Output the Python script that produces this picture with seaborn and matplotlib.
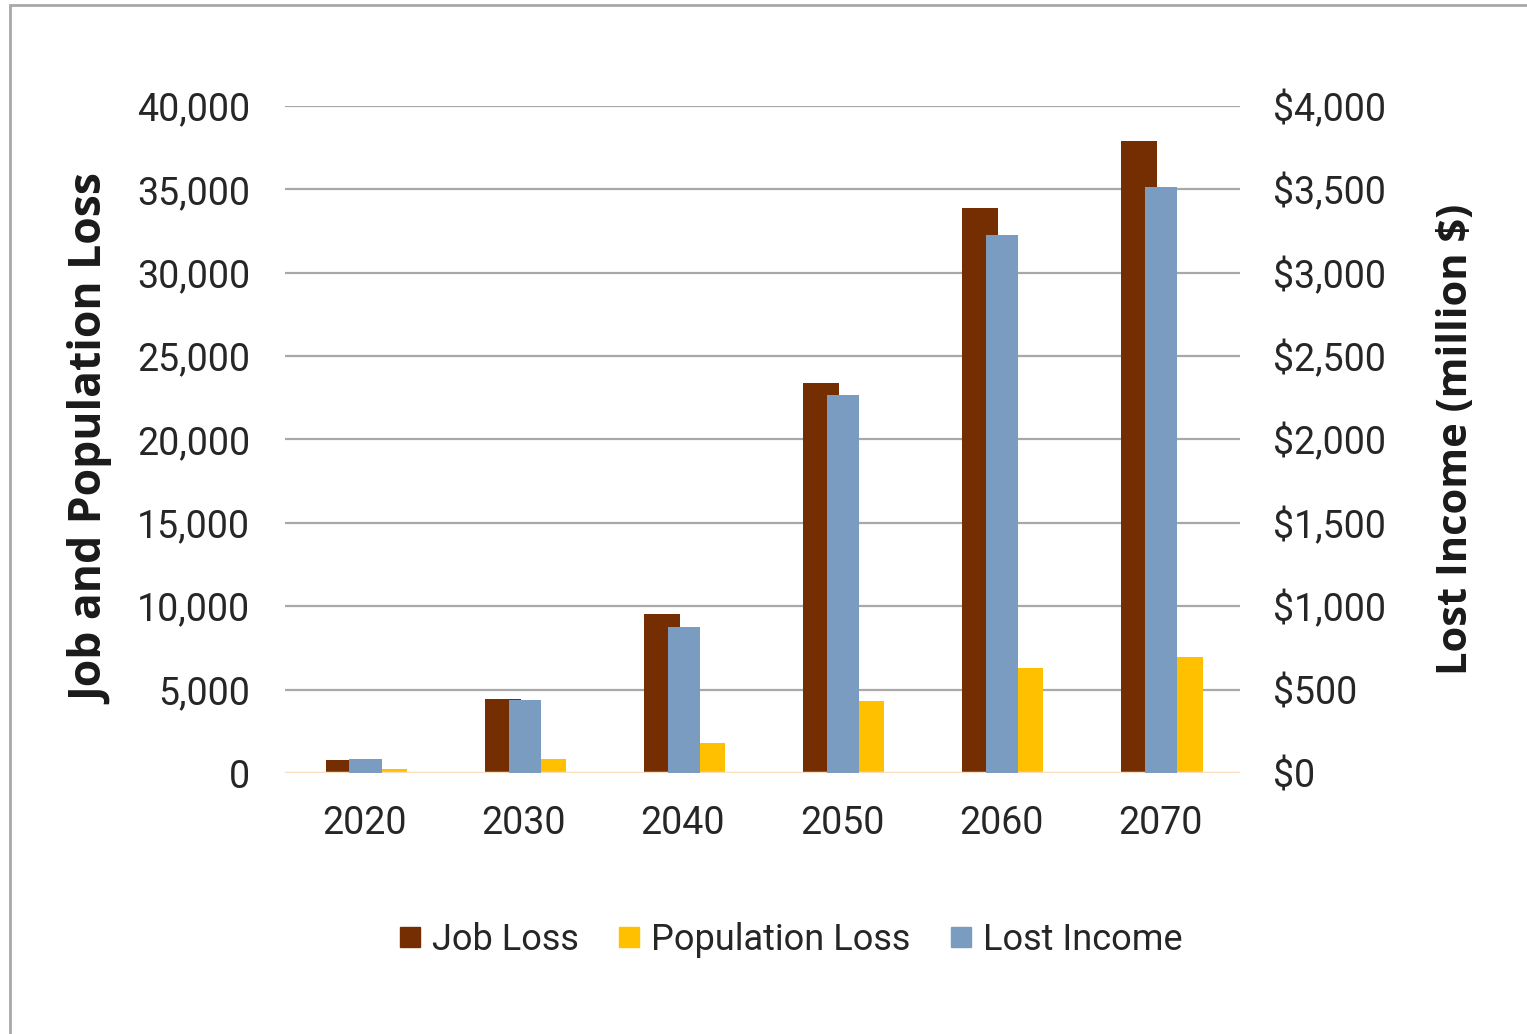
import numpy as np
import matplotlib
matplotlib.use("Agg")
import matplotlib.pyplot as plt
from matplotlib.patches import Rectangle
from matplotlib.lines import Line2D
import seaborn as sns

sns.set_style("white")
plt.rcParams['font.family'] = ['Roboto', 'DejaVu Sans']

# data
years = ["2020", "2030", "2040", "2050", "2060", "2070"]
job_loss = [780, 4450, 9550, 23400, 33900, 37900]
population_loss = [230, 840, 1800, 4330, 6300, 6960]
lost_income = [84, 438, 876, 2267, 3226, 3514]   # million $

c_job = "#742E02"
c_pop = "#FFC000"
c_inc = "#7A9CC0"
tick_col = "#262626"

fig = plt.figure(figsize=(15.27, 10.34), dpi=100)
ax = fig.add_axes([285/1527, 1 - 773/1034, 955/1527, 667/1034])
ax2 = ax.twinx()

idx = np.arange(len(years))

# Excel-like layout: job bar left, income overlapping slightly, population on right
sns.barplot(x=idx - 0.132, y=job_loss, native_scale=True, width=0.227,
            color=c_job, saturation=1, linewidth=0, ax=ax, zorder=3)
sns.barplot(x=idx + 0.186, y=population_loss, native_scale=True, width=0.158,
            color=c_pop, saturation=1, linewidth=0, ax=ax, zorder=3)
sns.barplot(x=idx + 0.006, y=lost_income, native_scale=True, width=0.202,
            color=c_inc, saturation=1, linewidth=0, ax=ax2, zorder=3)

ax.set_ylim(0, 40000)
ax2.set_ylim(0, 4000)
ax.set_xlim(-0.5, len(years) - 0.5)
ax2.set_xlim(-0.5, len(years) - 0.5)

ax.set_yticks(np.arange(0, 40001, 5000))
ax.set_yticklabels([f"{v:,}" for v in range(0, 40001, 5000)])
ax2.set_yticks(np.arange(0, 4001, 500))
ax2.set_yticklabels([f"${v:,}" for v in range(0, 4001, 500)])
ax.set_xticks(idx)
ax.set_xticklabels(years)

ax.grid(False)
ax2.grid(False)
for v in range(5000, 40001, 5000):
    ax.axhline(v, color="#A8A8A8", lw=1.6, zorder=1)
ax.axhline(0, color="#FBDDC0", lw=2.5, zorder=4)

for a in (ax, ax2):
    for s in a.spines.values():
        s.set_visible(False)
    a.tick_params(length=0, labelsize=27, colors=tick_col)
    a.set_xlabel("")
ax.tick_params(axis="y", pad=25)
ax2.tick_params(axis="y", pad=24)
ax.tick_params(axis="x", pad=23)

ax.set_ylabel("Job and Population Loss", fontsize=32, fontweight="bold",
              family=["Open Sans", "DejaVu Sans"], color="#1a1a1a", labelpad=16)
ax2.set_ylabel("Lost Income (million $)", fontsize=30, fontweight="bold",
               family=["Open Sans", "DejaVu Sans"], color="#1a1a1a", labelpad=36)

handles = [Line2D([], [], marker="s", ls="", color=c, markersize=15)
           for c in (c_job, c_pop, c_inc)]
fig.legend(handles, ["Job Loss", "Population Loss", "Lost Income"],
           loc="center", bbox_to_anchor=(789/1527, 1 - 940/1034), ncol=3,
           frameon=False, fontsize=26, handlelength=0.8, handletextpad=0.2,
           columnspacing=1.0, labelcolor=tick_col)

# outer frame like the screenshot
fig.patches.append(Rectangle((10/1527, -0.05), 1.2, 1.05 - 5/1034,
                             transform=fig.transFigure, fill=False,
                             edgecolor="#A8A8A8", lw=2))

fig.savefig("out.png", dpi=100)
